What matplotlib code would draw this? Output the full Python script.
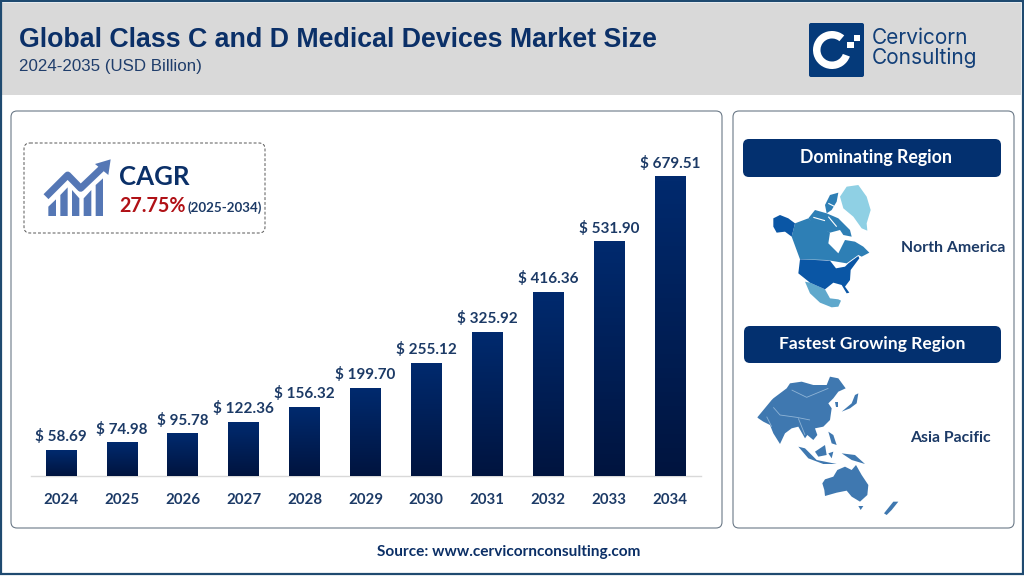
import matplotlib
matplotlib.use("Agg")
import matplotlib.pyplot as plt
from matplotlib.patches import FancyBboxPatch, Polygon, Rectangle, Wedge
import matplotlib.colors as mcolors
import numpy as np

years = ["2024","2025","2026","2027","2028","2029","2030","2031","2032","2033","2034"]
values = [58.69,74.98,95.78,122.36,156.32,199.70,255.12,325.92,416.36,531.90,679.51]

title = "Global Class C and D Medical Devices Market Size"
subtitle = "2024-2035 (USD Billion)"
source = "Source: www.cervicornconsulting.com"

NAVY = "#0b2f66"
TEXT = "#1c3a66"
SANS = "Liberation Sans"
BODY = "Lato"

# map outlines, in crop coordinates of the side panel
greenland = [(330,560),(350,530),(385,525),(410,560),(422,600),(410,640),(412,662),(395,655),(370,620),(340,595)]
alaska = [(130,625),(150,615),(175,625),(195,640),(185,680),(165,665),(140,668),(130,650)]
canada = [(195,640),(235,625),(255,640),(300,668),(295,700),(325,730),(345,690),(375,695),(400,710),(418,728),(395,740),(385,735),(350,760),(320,755),(290,750),(210,748),(185,680)]
arctic1 = [(235,625),(255,600),(290,610),(325,625),(360,660),(365,680),(340,675),(330,660),(300,668),(260,650)]
arctic2 = [(285,585),(300,555),(325,548),(320,575),(305,600),(290,610)]
usa = [(210,748),(300,752),(318,775),(345,770),(355,760),(385,738),(388,745),(362,780),(360,810),(345,830),(358,848),(350,850),(335,825),(310,818),(285,838),(240,818),(205,790)]
mexico = [(225,815),(240,818),(285,838),(300,865),(325,868),(333,872),(325,890),(305,892),(270,878),(240,850)]
arctic_gaps = [[(250,622),(285,632)],[(295,620),(320,650)],[(295,580),(315,590)]]

asia = [(82,292),(125,240),(130,235),(170,205),(180,190),(215,185),(250,195),(290,195),(300,170),(325,175),(347,205),(325,215),(310,235),(295,250),(305,265),(300,300),(280,320),(255,325),(262,345),(250,360),(232,345),(225,355),(205,320),(185,325),(165,340),(150,372),(130,340),(120,315),(100,305),(85,295)]
japan = [(335,275),(365,250),(375,225),(385,220),(380,250),(360,265)]
korea = [(315,245),(325,245),(325,262),(318,262)]
sumatra = [(205,380),(225,385),(260,420),(320,432),(280,432),(235,415)]
borneo = [(255,395),(285,375),(290,405),(265,410)]
sulawesi = [(295,400),(310,395),(305,415)]
guinea = [(335,400),(375,405),(405,432),(365,420)]
philippines = [(295,335),(310,345),(320,375),(305,370)]
australia = [(277,490),(285,478),(310,470),(322,450),(345,440),(365,450),(378,435),(395,465),(415,495),(412,525),(390,545),(365,530),(350,512),(320,518),(285,528),(283,510)]
tasmania = [(385,558),(400,558),(392,570)]
nz = [(462,580),(490,545),(505,545),(485,570),(470,585)]
asia_borders = [[(185,210),(230,232),(295,205)],[(130,262),(150,285),(200,292),(240,300)],[(110,290),(125,320)],[(205,295),(225,345)]]

# CAGR icon pieces, crop coordinates
icon_bars = [[(55,198),(78,198),(78,148),(55,170)],
             [(91,198),(113,198),(113,112),(91,135)],
             [(126,198),(148,198),(148,145),(126,120)],
             [(161,198),(184,198),(184,120),(161,145)],
             [(197,198),(219,198),(219,85),(197,105)]]
icon_line = [(48,140),(113,75),(152,115),(215,55)]
icon_head = [(242,28),(195,42),(235,75)]


def crop_pts(pts,x0,y0):
    return [(x0+p[0]/3.0,y0+p[1]/3.0) for p in pts]


def crop_poly(ax,pts,x0,y0,color):
    ax.add_patch(Polygon(crop_pts(pts,x0,y0),closed=True,fc=color,ec="none"))


def crop_line(ax,pts,x0,y0,color,lw):
    p = np.array(crop_pts(pts,x0,y0))
    ax.plot(p[:,0],p[:,1],color=color,lw=lw,solid_capstyle="butt")


def round_box(ax,x0,y0,x1,y1,r,**kw):
    p = FancyBboxPatch((x0+r,y0+r),x1-x0-2*r,y1-y0-2*r,boxstyle="round,pad=%f,rounding_size=%f" %(r,r),**kw)
    ax.add_patch(p)


fig = plt.figure(figsize=(10.24,5.76),dpi=100)

# Page layer, pixel coordinates
bg = fig.add_axes([0,0,1,1],zorder=0)
bg.set_xlim(0,1024)
bg.set_ylim(576,0)
bg.axis("off")

bg.add_patch(Rectangle((2,3),1019,92,fc="#d9d9d9",ec="none"))
bg.add_patch(Rectangle((1,1),1021.5,572.5,fc="none",ec="#1f4a70",lw=1.6))
round_box(bg,11,111,722,528,6,fc="white",ec="#6b7987",lw=0.8)
round_box(bg,733,111,1014,528,6,fc="white",ec="#6b7987",lw=0.8)
round_box(bg,24,143,265,233,6,fc="white",ec="#555555",lw=0.7,ls=(0,(3,2)))
round_box(bg,743,139,1001,177,6,fc="#03306f",ec="none")
round_box(bg,744,326,1001,363,6,fc="#03306f",ec="none")

bg.text(19,40,title,family=SANS,weight="bold",fontsize=19.25,color="#0b3068",va="center")
bg.text(19,66,subtitle,family=SANS,fontsize=12.2,color="#1f3d6b",va="center")
bg.text(508.5,552,source,family=BODY,weight="bold",fontsize=11.1,color=NAVY,ha="center",va="center")

# logo
round_box(bg,809,23,864,77,2,fc="#053a7a",ec="none")
bg.add_patch(Wedge((832,50),19,20,310,width=7.5,fc="white",ec="none"))
bg.add_patch(Rectangle((847,42),6.5,6,fc="white",ec="none"))
bg.add_patch(Rectangle((854,35),6,6,fc="white",ec="none"))
bg.text(872,38,"Cervicorn",family="Inter",fontsize=15,color="#123f78",va="center")
bg.text(872,58,"Consulting",family="Inter",fontsize=15,color="#123f78",va="center")

# CAGR icon
icon = "#5577b5"
for b in icon_bars:
    crop_poly(bg,b,30,150,icon)
crop_line(bg,icon_line,30,150,icon,5)
crop_poly(bg,icon_head,30,150,icon)

bg.text(119,177,"CAGR",family=BODY,weight="bold",fontsize=18.6,color="#0b3068",va="center")
bg.text(119,206,"27.75%",family=BODY,weight="bold",fontsize=14.2,color="#b01116",va="center")
bg.text(188,208,"(2025-2034)",family=BODY,weight="bold",fontsize=9.6,color=TEXT,va="center")

bg.text(876,157,"Dominating Region",family=BODY,weight="bold",fontsize=12.8,color="white",ha="center",va="center")
bg.text(872.5,344,"Fastest Growing Region",family=BODY,weight="bold",fontsize=12.6,color="white",ha="center",va="center")
bg.text(953,248,"North America",family=BODY,weight="bold",fontsize=11.4,color=TEXT,ha="center",va="center")
bg.text(950.5,438,"Asia Pacific",family=BODY,weight="bold",fontsize=11.4,color=TEXT,ha="center",va="center")

# maps
crop_poly(bg,greenland,730,10,"#8fd0e4")
crop_poly(bg,canada,730,10,"#2e7fb5")
crop_poly(bg,arctic1,730,10,"#2e7fb5")
crop_poly(bg,arctic2,730,10,"#2e7fb5")
for g in arctic_gaps:
    crop_line(bg,g,730,10,"white",0.8)
crop_poly(bg,alaska,730,10,"#0a56a5")
crop_poly(bg,mexico,730,10,"#5fa8cc")
crop_poly(bg,usa,730,10,"#0a56a5")
for shape in [asia,japan,korea,sumatra,borneo,sulawesi,guinea,philippines,australia,tasmania,nz]:
    crop_poly(bg,shape,730,320,"#3f78b0")
for g in asia_borders:
    crop_line(bg,g,730,320,"#8fb4d6",0.6)

# Chart layer
ax = fig.add_axes([31/1024,1-476/576,670/1024,346/576],zorder=1)
ax.patch.set_alpha(0)
x = np.arange(len(values))
bars = ax.bar(x,values,width=0.5,color="#012a6e",zorder=2)

# vertical gradient on each bar
cmap = mcolors.LinearSegmentedColormap.from_list("bar",["#00143f","#012a6e"])
grad = np.linspace(0,1,64).reshape(-1,1)
for b in bars:
    ax.imshow(grad,extent=[b.get_x(),b.get_x()+b.get_width(),0,b.get_height()],origin="lower",aspect="auto",cmap=cmap,zorder=3)
ax.set_xlim(-0.49,10.51)
ax.set_ylim(0,786)

for i,v in enumerate(values):
    ax.annotate("$ %.2f" %v,(x[i],v),xytext=(0,4.5),textcoords="offset points",family=BODY,weight="bold",
                fontsize=11,color=TEXT,ha="center",va="bottom")

ax.set_xticks(x)
ax.set_xticklabels(years,family=BODY,weight="bold",fontsize=10.8,color=TEXT)
ax.tick_params(axis="x",length=0,pad=12)
ax.set_yticks([])
for s in ["top","left","right"]:
    ax.spines[s].set_visible(False)
ax.spines["bottom"].set_color("#d9d9d9")
ax.spines["bottom"].set_linewidth(1)

plt.savefig("out.png",dpi=100)
